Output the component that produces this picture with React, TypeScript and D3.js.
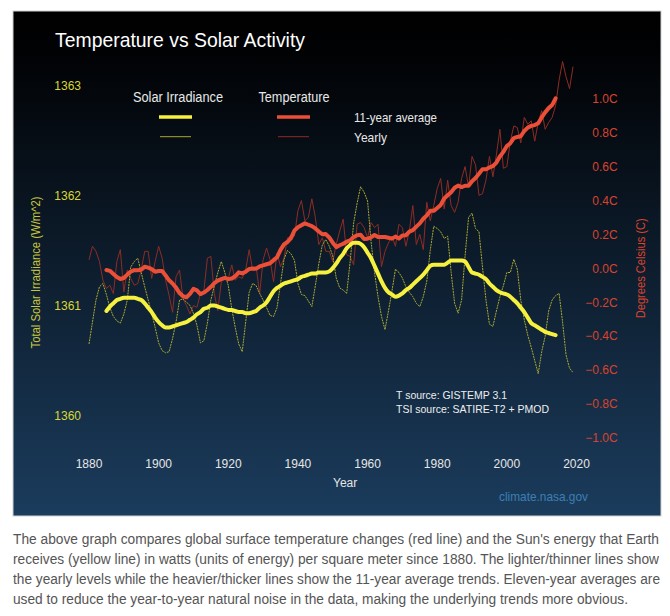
import React from "react";
import * as d3 from "d3";

// ---------- data ----------
const FIRST_YEAR = 1880;
const AVG_FIRST_YEAR = 1885;

// Total solar irradiance, yearly (W/m^2), 1880-2019
const TSI_YEARLY = [
  1360.65, 1360.85, 1361.05, 1361.17, 1361.2, 1361.1, 1360.98, 1360.9, 1360.86, 1360.84,
  1360.92, 1361.05, 1361.35, 1361.4, 1361.43, 1361.3, 1361.17, 1361.05, 1360.93, 1360.8,
  1360.66, 1360.59, 1360.57, 1360.58, 1360.7, 1360.85, 1361.05, 1361.06, 1361.03, 1361.0,
  1360.93, 1360.82, 1360.66, 1360.68, 1360.84, 1361.05, 1361.18, 1361.3, 1361.4, 1361.3,
  1361.18, 1360.97, 1360.8, 1360.65, 1360.58, 1360.85, 1361.12, 1361.2, 1361.18, 1361.11,
  1361.05, 1360.98, 1360.91, 1360.9, 1360.98, 1361.2, 1361.42, 1361.5, 1361.47, 1361.41,
  1361.2, 1361.1, 1361.09, 1361.04, 1360.99, 1361.18, 1361.38, 1361.55, 1361.6, 1361.54,
  1361.45, 1361.25, 1361.16, 1361.14, 1361.11, 1361.4, 1361.75, 1361.93, 1362.08, 1362.03,
  1361.95, 1361.58, 1361.3, 1361.08, 1360.9, 1360.78, 1360.95, 1361.13, 1361.33, 1361.3,
  1361.25, 1361.17, 1361.12, 1361.08, 1361.02, 1360.99, 1361.08, 1361.22, 1361.5, 1361.72,
  1361.7, 1361.67, 1361.61, 1361.63, 1361.3, 1361.02, 1360.93, 1361.05, 1361.45, 1361.8,
  1361.84, 1361.7, 1361.67, 1361.35, 1361.05, 1360.83, 1360.81, 1360.95, 1361.08, 1361.18,
  1361.3, 1361.3, 1361.42, 1361.33, 1361.05, 1360.87, 1360.73, 1360.62, 1360.5, 1360.38,
  1360.58, 1360.72, 1360.95, 1361.05, 1361.09, 1361.11, 1360.85, 1360.55, 1360.43, 1360.39,
];

// Total solar irradiance, 11-year average, 1885-2014
const TSI_AVG = [
  1360.95, 1360.99, 1361.02, 1361.05, 1361.06, 1361.07, 1361.07, 1361.07, 1361.07, 1361.06,
  1361.05, 1361.02, 1360.98, 1360.94, 1360.89, 1360.85, 1360.82, 1360.8, 1360.8, 1360.81,
  1360.82, 1360.83, 1360.84, 1360.85, 1360.87, 1360.89, 1360.92, 1360.94, 1360.97, 1360.98,
  1361.0, 1361.0, 1360.99, 1360.98, 1360.97, 1360.96, 1360.96, 1360.95, 1360.94, 1360.94,
  1360.93, 1360.93, 1360.94, 1360.95, 1360.98, 1361.0, 1361.03, 1361.08, 1361.13, 1361.16,
  1361.18, 1361.2, 1361.21, 1361.22, 1361.23, 1361.24, 1361.26, 1361.27, 1361.28, 1361.29,
  1361.29, 1361.3, 1361.3, 1361.3, 1361.31, 1361.34, 1361.38, 1361.43, 1361.47, 1361.52,
  1361.55, 1361.57, 1361.57, 1361.56, 1361.53, 1361.48, 1361.43, 1361.36, 1361.29, 1361.22,
  1361.16, 1361.12, 1361.1, 1361.08, 1361.09, 1361.11, 1361.14, 1361.16, 1361.19, 1361.22,
  1361.25, 1361.28, 1361.32, 1361.36, 1361.37, 1361.37, 1361.37, 1361.37, 1361.39, 1361.41,
  1361.41, 1361.41, 1361.41, 1361.4, 1361.35, 1361.3, 1361.29, 1361.28, 1361.26, 1361.24,
  1361.2, 1361.17, 1361.14, 1361.12, 1361.11, 1361.1, 1361.08, 1361.05, 1361.02, 1360.98,
  1360.94, 1360.89, 1360.84, 1360.82, 1360.8, 1360.78, 1360.76, 1360.75, 1360.74, 1360.73,
];

// Temperature, yearly (degrees C on the chart's scale), 1880-2019
const TEMP_YEARLY = [
  0.05, 0.13, 0.1, 0.04, -0.07, -0.12, -0.1, -0.15, 0.04, 0.11,
  -0.14, -0.01, -0.06, -0.1, -0.09, -0.01, 0.1, 0.1, -0.06, 0.04,
  0.13, 0.06, -0.07, -0.16, -0.26, -0.05, -0.01, -0.18, -0.22, -0.27,
  -0.22, -0.23, -0.15, -0.13, 0.06, 0.07, -0.15, -0.25, -0.08, -0.06,
  -0.06, 0.02, -0.07, -0.05, -0.06, -0.01, 0.11, -0.01, 0.01, -0.15,
  0.05, 0.12, 0.05, -0.08, 0.09, 0.01, 0.06, 0.18, 0.19, 0.19,
  0.34, 0.4, 0.28, 0.3, 0.41, 0.3, 0.14, 0.18, 0.1, 0.1,
  0.04, 0.14, 0.22, 0.29, 0.08, 0.07, 0.02, 0.26, 0.27, 0.24,
  0.18, 0.27, 0.24, 0.26, 0.01, 0.1, 0.15, 0.19, 0.13, 0.26,
  0.24, 0.13, 0.22, 0.37, 0.14, 0.2, 0.11, 0.39, 0.28, 0.37,
  0.47, 0.53, 0.35, 0.52, 0.37, 0.33, 0.39, 0.53, 0.6, 0.48,
  0.66, 0.61, 0.43, 0.44, 0.52, 0.66, 0.54, 0.67, 0.82, 0.59,
  0.6, 0.75, 0.84, 0.83, 0.74, 0.89, 0.85, 0.87, 0.75, 0.86,
  0.93, 0.82, 0.86, 0.89, 0.96, 1.11, 1.22, 1.13, 1.06, 1.19,
];

// Temperature, 11-year average, 1885-2014
const TEMP_AVG = [
  -0.01, -0.015, -0.033, -0.051, -0.063, -0.057, -0.037, -0.019, -0.011, -0.011,
  -0.009, 0.009, 0.004, -0.005, -0.02, -0.016, -0.016, -0.042, -0.071, -0.09,
  -0.114, -0.146, -0.165, -0.171, -0.151, -0.121, -0.13, -0.152, -0.143, -0.128,
  -0.109, -0.087, -0.073, -0.064, -0.057, -0.064, -0.06, -0.047, -0.024, -0.03,
  -0.02, -0.004, -0.001, -0.002, 0.011, 0.017, 0.024, 0.03, 0.048, 0.065,
  0.109, 0.141, 0.155, 0.178, 0.223, 0.242, 0.254, 0.265, 0.257, 0.249,
  0.235, 0.217, 0.201, 0.202, 0.182, 0.151, 0.125, 0.136, 0.145, 0.157,
  0.165, 0.185, 0.195, 0.198, 0.173, 0.175, 0.182, 0.197, 0.185, 0.185,
  0.185, 0.18, 0.175, 0.187, 0.176, 0.194, 0.195, 0.216, 0.225, 0.246,
  0.265, 0.292, 0.312, 0.339, 0.339, 0.356, 0.374, 0.412, 0.431, 0.449,
  0.475, 0.488, 0.479, 0.487, 0.487, 0.514, 0.533, 0.558, 0.585, 0.584,
  0.595, 0.603, 0.624, 0.66, 0.687, 0.721, 0.738, 0.768, 0.775, 0.779,
  0.81, 0.83, 0.84, 0.845, 0.856, 0.89, 0.92, 0.945, 0.963, 1.003,
];

const YEAR_TICKS = [1880, 1900, 1920, 1940, 1960, 1980, 2000, 2020];
const TSI_TICKS = [1360, 1361, 1362, 1363];
const TEMP_TICKS = [1.0, 0.8, 0.6, 0.4, 0.2, 0.0, -0.2, -0.4, -0.6, -0.8, -1.0];

const CAPTION = [
  "The above graph compares global surface temperature changes (red line) and the Sun's energy that Earth",
  "receives (yellow line) in watts (units of energy) per square meter since 1880. The lighter/thinner lines show",
  "the yearly levels while the heavier/thicker lines show the 11-year average trends. Eleven-year averages are",
  "used to reduce the year-to-year natural noise in the data, making the underlying trends more obvious.",
];
const CAPTION_WIDTHS = [646, 646, 647, 615];

const FONT = "'Liberation Sans', Arial, Helvetica, sans-serif";

export default function App() {
  const W = 670;
  const H = 616;

  const x = d3.scaleLinear().domain([1880, 2020]).range([89, 576.5]);
  const yTsi = d3.scaleLinear().domain([1360, 1363]).range([415.5, 85.5]);
  const yTemp = d3.scaleLinear().domain([-1, 1]).range([437.8, 98.8]);

  type P = [number, number];
  const tsiYearly: P[] = TSI_YEARLY.map((v, i) => [FIRST_YEAR + i, v]);
  const tsiAvg: P[] = TSI_AVG.map((v, i) => [AVG_FIRST_YEAR + i, v]);
  const tempYearly: P[] = TEMP_YEARLY.map((v, i) => [FIRST_YEAR + i, v]);
  const tempAvg: P[] = TEMP_AVG.map((v, i) => [AVG_FIRST_YEAR + i, v]);

  const lineTsi = d3.line<P>().x((d) => x(d[0])).y((d) => yTsi(d[1]));
  const lineTsiSmooth = d3
    .line<P>()
    .x((d) => x(d[0]))
    .y((d) => yTsi(d[1]))
    .curve(d3.curveMonotoneX);
  const lineTemp = d3.line<P>().x((d) => x(d[0])).y((d) => yTemp(d[1]));

  const fmt = d3.format(".1f");
  const CAP_SCALE = 0.91;

  return (
    <div style={{ position: "absolute", left: 0, top: 0, width: W, height: H, background: "#fff" }}>
      <svg width={W} height={H} style={{ display: "block", fontFamily: FONT }}>
        <defs>
          <linearGradient id="bg" x1="0" y1="0" x2="0" y2="1">
            <stop offset="0" stopColor="#000000" />
            <stop offset="0.08" stopColor="#010204" />
            <stop offset="1" stopColor="#1b3c5d" />
          </linearGradient>
        </defs>
        <rect x={13} y={11} width={648} height={505} fill="url(#bg)" stroke="#cfcfcf" strokeWidth={1} />

        {/* title */}
        <text x={55} y={47} fill="#ffffff" fontSize={21} textLength={250} lengthAdjust="spacingAndGlyphs">
          Temperature vs Solar Activity
        </text>

        {/* legend */}
        <text x={178} y={101.5} fill="#e8e8e8" fontSize={14} textAnchor="middle" textLength={90} lengthAdjust="spacingAndGlyphs">
          Solar Irradiance
        </text>
        <text x={294} y={101.5} fill="#e8e8e8" fontSize={14} textAnchor="middle" textLength={71} lengthAdjust="spacingAndGlyphs">
          Temperature
        </text>
        <line x1={159} x2={192} y1={117} y2={117} stroke="#f6f03e" strokeWidth={3.5} />
        <line x1={160} x2={191} y1={136.7} y2={136.7} stroke="#a9a832" strokeWidth={1} />
        <line x1={277} x2={310} y1={117} y2={117} stroke="#ec4f37" strokeWidth={3.5} />
        <line x1={278} x2={309} y1={136.7} y2={136.7} stroke="#8e2c24" strokeWidth={1} />
        <text x={354} y={121.5} fill="#e8e8e8" fontSize={13} textLength={83} lengthAdjust="spacingAndGlyphs">
          11-year average
        </text>
        <text x={354} y={142} fill="#e8e8e8" fontSize={13} textLength={33} lengthAdjust="spacingAndGlyphs">
          Yearly
        </text>

        {/* left axis */}
        {TSI_TICKS.map((t) => (
          <text key={t} x={81} y={yTsi(t) + 4.3} fill="#d9d736" fontSize={12} textAnchor="end">
            {t}
          </text>
        ))}
        <text
          transform={`translate(40,272.5) rotate(-90)`}
          fill="#c9c63a"
          fontSize={12.5}
          textAnchor="middle"
          textLength={152}
          lengthAdjust="spacingAndGlyphs"
        >
          Total Solar Irradiance (W/m^2)
        </text>

        {/* right axis */}
        {TEMP_TICKS.map((t) => (
          <text key={t} x={617.7} y={yTemp(t) + 4.3} fill="#d8432e" fontSize={12} textAnchor="end">
            {fmt(t) + "C"}
          </text>
        ))}
        <text
          transform={`translate(644.5,268.3) rotate(-90)`}
          fill="#d8432e"
          fontSize={12.5}
          textAnchor="middle"
          textLength={100}
          lengthAdjust="spacingAndGlyphs"
        >
          Degrees Celsius (C)
        </text>

        {/* x axis */}
        {YEAR_TICKS.map((t) => (
          <text key={t} x={x(t)} y={468} fill="#e6e6e6" fontSize={12} textAnchor="middle">
            {t}
          </text>
        ))}
        <text x={333} y={486.5} fill="#e6e6e6" fontSize={12}>
          Year
        </text>

        {/* source notes */}
        <text x={396} y={398.5} fill="#eeeeee" fontSize={11.5} textLength={111} lengthAdjust="spacingAndGlyphs">
          T source: GISTEMP 3.1
        </text>
        <text x={396} y={412.5} fill="#eeeeee" fontSize={11.5} textLength={153} lengthAdjust="spacingAndGlyphs">
          TSI source: SATIRE-T2 + PMOD
        </text>
        <text x={499} y={501} fill="#3c7fb4" fontSize={13} textLength={89} lengthAdjust="spacingAndGlyphs">
          climate.nasa.gov
        </text>

        {/* data lines */}
        <path d={lineTemp(tempYearly) || ""} fill="none" stroke="#8e2c24" strokeWidth={1} strokeLinejoin="round" />
        <path
          d={lineTsi(tsiYearly) || ""}
          fill="none"
          stroke="#a9a832"
          strokeWidth={1}
          strokeDasharray="2 0.8"
          strokeLinejoin="round"
        />
        <path
          d={lineTemp(tempAvg) || ""}
          fill="none"
          stroke="#ec4f37"
          strokeWidth={4}
          strokeLinejoin="round"
          strokeLinecap="round"
        />
        <path
          d={lineTsiSmooth(tsiAvg) || ""}
          fill="none"
          stroke="#f6f03e"
          strokeWidth={4}
          strokeLinejoin="round"
          strokeLinecap="round"
        />

        {/* caption */}
        {CAPTION.map((line, i) => (
          <text
            key={i}
            transform={`translate(13,${544 + i * 20}) scale(${CAP_SCALE},1)`}
            fill="#555555"
            fontSize={15}
            textLength={CAPTION_WIDTHS[i] / CAP_SCALE}
            lengthAdjust="spacingAndGlyphs"
          >
            {line}
          </text>
        ))}
      </svg>
    </div>
  );
}
